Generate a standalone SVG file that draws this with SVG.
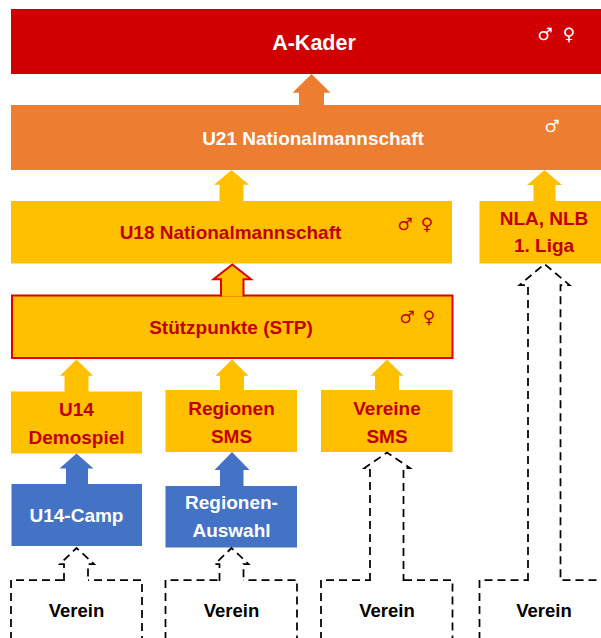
<svg xmlns="http://www.w3.org/2000/svg" width="601" height="638" viewBox="0 0 601 638">
<style>
text{font-family:"Liberation Sans",Arial,sans-serif;font-weight:bold;font-size:19px;text-anchor:middle}
.w{fill:#FFFFFF}
.r{fill:#C00000}
.k{fill:#000000;font-size:18.5px}
.sym{font-family:"DejaVu Sans",sans-serif;font-weight:normal;font-size:17px}
.red{fill:#D00000}
.org{fill:#ED7D31}
.yel{fill:#FFC000}
.blu{fill:#4472C4}
.dash{fill:#FFFFFF;stroke:#000000;stroke-width:1.75;stroke-dasharray:8 5}
.dashline{fill:#FFFFFF;stroke:#000000;stroke-width:1.75;stroke-dasharray:8 5}
</style>
<rect width="601" height="638" fill="#FFFFFF"/>

<g id="verein1">
<path class="dash" d="M11,640 V580 H142 V640"/>
<text class="k" x="76.5" y="617">Verein</text>
</g>
<g id="verein2">
<path class="dash" d="M165.5,640 V580 H297 V640"/>
<text class="k" x="231.5" y="617">Verein</text>
</g>
<g id="verein3">
<path class="dash" d="M321,640 V580 H452.5 V640"/>
<text class="k" x="387" y="617">Verein</text>
</g>
<g id="verein4">
<path class="dash" d="M479.5,640 V580 H603"/>
<text class="k" x="544" y="617">Verein</text>
</g>

<g id="a-kader">
<rect class="red" x="11" y="9" width="592" height="65"/>
<text class="w" x="314" y="50" style="font-size:21.5px">A-Kader</text>
<text class="w sym" x="545" y="40">♂</text>
<text class="w sym" x="569" y="40">♀</text>
</g>
<g id="u21">
<rect class="org" x="11" y="105" width="592" height="65"/>
<text class="w" x="313" y="145">U21 Nationalmannschaft</text>
<text class="w sym" x="552" y="132">♂</text>
</g>
<g id="u18">
<rect class="yel" x="11" y="201" width="441" height="62.5"/>
<text class="r" x="230.5" y="239">U18 Nationalmannschaft</text>
<text class="r sym" x="405" y="230">♂</text>
<text class="r sym" x="427" y="230">♀</text>
</g>
<g id="nla">
<rect class="yel" x="479.5" y="201" width="123" height="62.5"/>
<text class="r" x="544" y="225">NLA, NLB</text>
<text class="r" x="544" y="252">1. Liga</text>
</g>
<g id="stp">
<rect class="yel" x="12" y="295.5" width="440.5" height="62.5" stroke="#E00000" stroke-width="2"/>
<text class="r" x="231" y="334">Stützpunkte (STP)</text>
<text class="r sym" x="407" y="323">♂</text>
<text class="r sym" x="429" y="323">♀</text>
</g>
<g id="u14-demospiel">
<rect class="yel" x="11" y="391.5" width="131" height="62"/>
<text class="r" x="76.5" y="416">U14</text>
<text class="r" x="76.5" y="444">Demospiel</text>
</g>
<g id="regionen-sms">
<rect class="yel" x="165.5" y="390" width="131.5" height="62"/>
<text class="r" x="231.5" y="415">Regionen</text>
<text class="r" x="231.5" y="442.5">SMS</text>
</g>
<g id="vereine-sms">
<rect class="yel" x="321" y="390" width="131.5" height="62"/>
<text class="r" x="387" y="415">Vereine</text>
<text class="r" x="387" y="442.5">SMS</text>
</g>
<g id="u14-camp">
<rect class="blu" x="11.5" y="484" width="130.5" height="62"/>
<text class="w" x="76.5" y="521.5">U14-Camp</text>
</g>
<g id="regionen-auswahl">
<rect class="blu" x="165.5" y="486" width="131.5" height="61.5"/>
<text class="w" x="231.5" y="508.5">Regionen-</text>
<text class="w" x="231.5" y="536.5">Auswahl</text>
</g>

<g id="connectors">
<polygon class="org" points="299,106 299,92.7 292.5,92.7 311.5,74 330.5,92.7 324,92.7 324,106"/>
<polygon class="yel" points="219.5,202 219.5,184.7 214,184.7 231.5,170 249,184.7 243.5,184.7 243.5,202"/>
<polygon class="yel" points="533.5,202 533.5,185 527,185 544.5,170 562,185 555.5,185 555.5,202"/>
<path class="yel" d="M221,296.5 V279.3 H213.5 L232.3,264.5 L251,279.3 H243.5 V296.5" stroke="#E00000" stroke-width="2"/>
<polygon class="yel" points="64.5,392 64.5,375.7 60,375.7 76.5,359.5 93,375.7 88.5,375.7 88.5,392"/>
<polygon class="yel" points="220,391 220,375.7 215.5,375.7 232,359.5 248.5,375.7 244,375.7 244,391"/>
<polygon class="yel" points="375,391 375,375.7 370.5,375.7 387,359.5 403.5,375.7 399,375.7 399,391"/>
<polygon class="blu" points="66,485 66,468.5 59.5,468.5 76.5,453.5 93.5,468.5 88,468.5 88,485"/>
<polygon class="blu" points="220,487 220,470 214.5,470 232,452 249.5,470 243.5,470 243.5,487"/>
<path class="dashline" d="M64,580.9 V564 H60 L76.5,548 L94,564 H88 V580.9"/>
<path class="dashline" d="M219.5,580.9 V564 H215 L231.5,548 L248.5,564 H243.5 V580.9"/>
<path class="dashline" d="M370,580.9 V468 H364.5 L387,452.5 L410,468 H403.5 V580.9"/>
<path class="dashline" d="M528,580.9 V285 H519.5 L544.5,264 L569.5,285 H560.5 V580.9"/>
</g>
</svg>
